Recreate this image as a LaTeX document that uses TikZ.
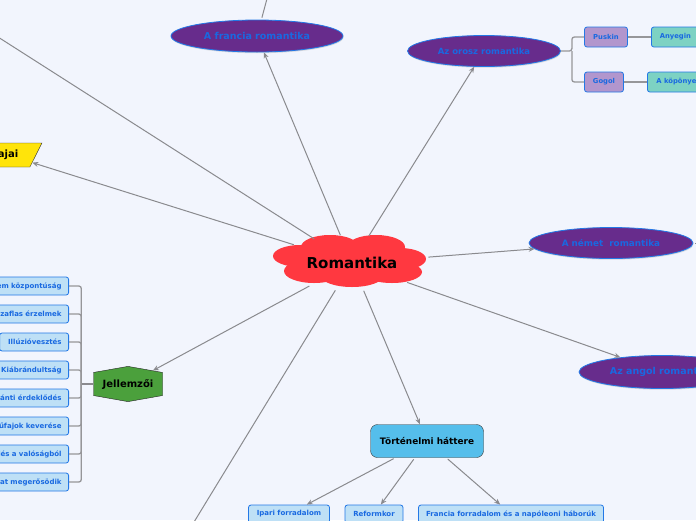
\documentclass[tikz,border=0pt]{standalone}
\usepackage{fontspec}
\setmainfont{DejaVu Sans}
\usetikzlibrary{shapes.geometric,shapes.symbols,arrows.meta,shadows}
\definecolor{bgblue}{RGB}{242,245,253}
\definecolor{linkgray}{RGB}{138,138,142}
\definecolor{cloudred}{RGB}{255,56,64}
\definecolor{topicpurple}{RGB}{103,44,140}
\definecolor{edgeblue}{RGB}{35,120,230}
\definecolor{textblue}{RGB}{25,105,225}
\definecolor{itemfill}{RGB}{190,224,246}
\definecolor{jgreen}{RGB}{75,160,60}
\definecolor{histblue}{RGB}{85,190,235}
\definecolor{ajaiyellow}{RGB}{255,228,10}
\definecolor{lavender}{RGB}{178,150,205}
\definecolor{workteal}{RGB}{125,210,195}

\begin{document}
\begin{tikzpicture}[x=1pt, y=-1pt,
  topic/.style={ellipse, draw=edgeblue, line width=0.8pt, fill=topicpurple, text=textblue, font=\bfseries\fontsize{9.5}{11}\selectfont, inner sep=0pt, drop shadow={opacity=0.25, shadow xshift=0.5pt, shadow yshift=-1.2pt}},
  item/.style={rectangle, rounded corners=2.5pt, draw=edgeblue, line width=0.8pt, fill=itemfill, text=textblue, font=\bfseries\fontsize{7}{8}\selectfont, minimum height=18pt, inner xsep=7pt, inner ysep=0pt},
  arrow/.style={-{Stealth[length=6pt,width=5pt]}, line width=1pt, linkgray, shorten <=2pt},
  link/.style={line width=1pt, linkgray, shorten <=2pt},
  bracket/.style={line width=1.3pt, linkgray!90, rounded corners=2.5pt}]

\useasboundingbox (0,0) rectangle (696,520);
\fill[bgblue] (0,0) rectangle (696,520);
\clip (0,0) rectangle (696,520);

% centre cloud
\foreach \cx/\cy/\rx/\ry in {350/261/62/18, 330/247/29/12, 376/247/29/12, 300/256/27/11, 400/259/26/11, 314/271/30/12, 392/272/30/11, 352/275/32/12}
  \fill[cloudred] (\cx,\cy) ellipse [x radius=\rx, y radius=\ry];
\node[ellipse, minimum width=152pt, minimum height=52pt, inner sep=0pt, font=\bfseries\fontsize{15}{17}\selectfont] (rom) at (352,263) {Romantika};

% national branches
\node[topic, minimum width=172pt, minimum height=32pt] (fr) at (257,36) {A francia romantika};
\node[topic, minimum width=153pt, minimum height=31pt, font=\bfseries\fontsize{8.5}{10}\selectfont] (oro) at (484,51) {Az orosz romantika};
\node[topic, minimum width=164pt, minimum height=31pt, font=\bfseries\fontsize{8.8}{10}\selectfont] (nem) at (611,243) {A német\ \ romantika};
\node[topic, minimum width=166pt, minimum height=33pt] (ang) at (662,372) {Az angol romantika};

\node[item, fill=lavender, minimum width=43pt, minimum height=20pt, font=\bfseries\fontsize{6.8}{8}\selectfont] (puskin) at (606,37) {Puskin};
\node[item, fill=lavender, minimum width=39pt, minimum height=20pt, font=\bfseries\fontsize{6.8}{8}\selectfont] (gogol) at (604,82) {Gogol};
\node[item, fill=workteal, minimum width=48pt, minimum height=20pt, anchor=west, font=\bfseries\fontsize{6.8}{8}\selectfont] (anyegin) at (651,37) {Anyegin};
\node[item, fill=workteal, minimum height=20pt, anchor=west, inner xsep=9pt, font=\bfseries\fontsize{6.8}{8}\selectfont] (kopeny) at (647,82) {A köpönyeg};

% left side
\node[trapezium, trapezium left angle=60, trapezium right angle=120, trapezium stretches=true, draw=black!80, fill=ajaiyellow, minimum width=68pt, minimum height=24pt, inner sep=0pt, font=\bfseries\fontsize{10}{12}\selectfont] (mufaj) at (8,155) {ajai};

\node[signal, signal to=north and south, signal pointer angle=160, draw=black!85, fill=jgreen, minimum width=69pt, minimum height=32pt, inner sep=0pt, font=\bfseries\fontsize{10}{12}\selectfont] (jell) at (128,384) {Jellemzői};

\foreach \lbl/\w [count=\i] in {em központúság/76, zaflas érzelmek/76, Illúzióvesztés/55, Kiábrándultság/76, ránti érdeklődés/76, űfajok keverése/76, lés a valóságból/76, at megerősödik/76}
  \node[item, anchor=east, text width=\w pt, align=right] (j\i) at (69,258+28*\i) {\lbl};

% history
\node[rectangle, rounded corners=7pt, draw=black!80, fill=histblue, minimum width=113pt, minimum height=33pt, font=\bfseries\fontsize{8.9}{10}\selectfont] (tort) at (427,441) {Történelmi háttere};
\node[item, minimum width=81pt] (ipari) at (289,514) {Ipari forradalom};
\node[item, minimum width=58pt] (reform) at (374,514) {Reformkor};
\node[item, minimum width=185pt] (frforr) at (511,514) {Francia forradalom és a napóleoni háborúk};

% connectors
\coordinate (offnw) at (-60,0);
\coordinate (offsw) at (180,545);
\coordinate (frup) at (272,-20);
\coordinate (nemout) at (720,243);
\draw[arrow] (rom) -- (fr);
\draw[arrow] (rom) -- (oro);
\draw[arrow] (rom) -- (nem);
\draw[arrow] (rom) -- (ang);
\draw[arrow] (rom) -- (tort);
\draw[arrow] (rom) -- (jell);
\draw[arrow] (rom) -- (mufaj);
\draw[link] (rom) -- (offnw);
\draw[link] (rom) -- (offsw);
\draw[link] (fr) -- (frup);
\draw[link] (nem) -- (nemout);

\draw[arrow] (tort) -- (ipari);
\draw[arrow] (tort) -- (reform);
\draw[arrow] (tort) -- (frforr);

\coordinate (ofork) at ([xshift=11pt]oro.east);
\draw[bracket] (oro.east) -- (ofork) |- (puskin.west);
\draw[bracket] (ofork) |- (gogol.west);
\draw[bracket] (puskin) -- (anyegin);
\draw[bracket] (gogol) -- (kopeny);

\coordinate (jfork) at ([xshift=-12pt]jell.west);
\draw[line width=2.5pt, linkgray] (jell.west) -- (jfork);
\foreach \i in {1,...,8}
  \draw[bracket] (jfork) |- (j\i.east);
\end{tikzpicture}
\end{document}
